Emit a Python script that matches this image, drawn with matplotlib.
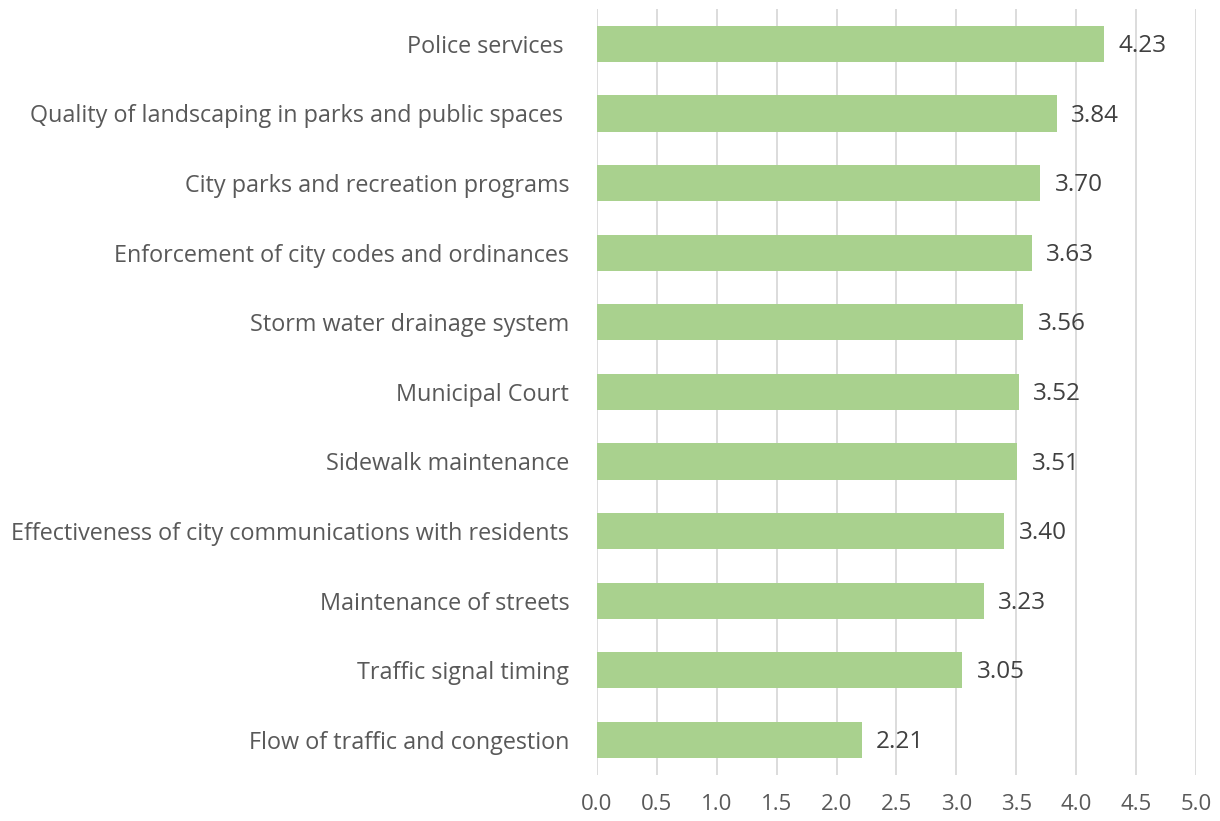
import matplotlib
matplotlib.use("Agg")
from matplotlib import pyplot as plt
import numpy as np

# categories listed top to bottom as in the chart
categories = [
    "Police services ",
    "Quality of landscaping in parks and public spaces ",
    "City parks and recreation programs",
    "Enforcement of city codes and ordinances",
    "Storm water drainage system",
    "Municipal Court",
    "Sidewalk maintenance",
    "Effectiveness of city communications with residents",
    "Maintenance of streets",
    "Traffic signal timing",
    "Flow of traffic and congestion",
]
scores = [4.23, 3.84, 3.70, 3.63, 3.56, 3.52, 3.51, 3.40, 3.23, 3.05, 2.21]
x_ticks = [0.0, 0.5, 1.0, 1.5, 2.0, 2.5, 3.0, 3.5, 4.0, 4.5, 5.0]

plt.rcParams['font.family'] = ['Open Sans', 'DejaVu Sans']
text_color = '#595959'

fig = plt.figure(figsize=(12.2, 8.21), dpi=100)
ax = fig.add_axes([0.4893, 0.0565, 0.491, 0.9325])

y = np.arange(len(categories))
ax.barh(y, scores, height=0.52, color='#A9D18E', zorder=3)

for yi, v in zip(y, scores):
    ax.text(v + 0.12, yi + 0.03, f"{v:.2f}", va='center', ha='left',
            fontsize=17.5, color='#404040')

ax.set_ylim(len(categories) - 0.5, -0.5)
ax.set_xlim(0, 5)
ax.set_xticks(x_ticks)
ax.set_xticklabels([f"{t:.1f}" for t in x_ticks])
ax.set_yticks(y)
ax.set_yticklabels(categories, fontsize=16.8)

ax.grid(axis='x', color='#D9D9D9', linewidth=1.3, zorder=0)
for s in ax.spines.values():
    s.set_visible(False)
ax.tick_params(axis='both', length=0, labelcolor=text_color)
ax.tick_params(axis='x', labelsize=16, pad=14)
ax.tick_params(axis='y', pad=20)

plt.savefig('out.png', dpi=100)
